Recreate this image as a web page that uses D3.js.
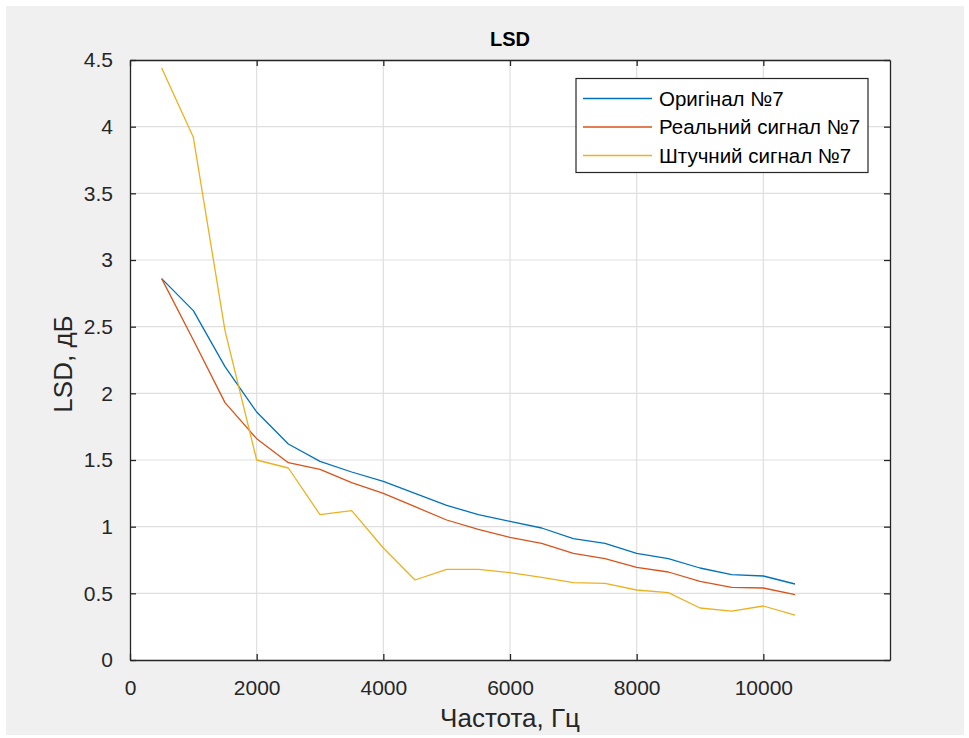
<!DOCTYPE html>
<html>
<head>
<meta charset="utf-8">
<script src="https://cdn.jsdelivr.net/npm/d3@7"></script>
<style>
  html, body { margin: 0; padding: 0; background: #ffffff; }
  svg { display: block; }
  text { font-family: "Liberation Sans", Arial, Helvetica, sans-serif; }
</style>
</head>
<body>
<svg id="chart" width="969" height="738"></svg>
<script>
// ---- data ----
const freqs = [500, 1000, 1500, 2000, 2500, 3000, 3500, 4000, 4500, 5000, 5500,
               6000, 6500, 7000, 7500, 8000, 8500, 9000, 9500, 10000, 10500];
const original = [2.86, 2.62, 2.20, 1.86, 1.62, 1.49, 1.41, 1.34, 1.25, 1.16, 1.09,
                  1.04, 0.99, 0.91, 0.875, 0.80, 0.76, 0.69, 0.64, 0.63, 0.57];
const realSig = [2.86, 2.40, 1.93, 1.66, 1.48, 1.43, 1.33, 1.25, 1.15, 1.05, 0.98,
                 0.92, 0.875, 0.80, 0.76, 0.695, 0.66, 0.59, 0.545, 0.54, 0.49];
const synthSig = [4.44, 3.92, 2.47, 1.50, 1.44, 1.09, 1.12, 0.84, 0.60, 0.68, 0.68,
                  0.655, 0.62, 0.58, 0.575, 0.525, 0.505, 0.39, 0.367, 0.405, 0.337];
const seriesNames = ["Оригінал №7", "Реальний сигнал №7", "Штучний сигнал №7"];
const xTicks = [0, 2000, 4000, 6000, 8000, 10000];
const yTicks = [0, 0.5, 1, 1.5, 2, 2.5, 3, 3.5, 4, 4.5];
const titleText = "LSD";
const xLabelText = "Частота, Гц";
const yLabelText = "LSD, дБ";

// ---- layout ----
const colors = ["#0072BD", "#D95319", "#EDB120"];
const plot = { left: 130, right: 890, top: 60, bottom: 660 };
const axisColor = "#262626";

const svg = d3.select("#chart");
svg.append("rect").attr("x", 6).attr("y", 6).attr("width", 958).attr("height", 729)
   .attr("fill", "#f0f0f0");

const x = d3.scaleLinear().domain([0, 12000]).range([plot.left, plot.right]);
const y = d3.scaleLinear().domain([0, 4.5]).range([plot.bottom, plot.top]);

// plot background
svg.append("rect").attr("x", plot.left).attr("y", plot.top)
   .attr("width", plot.right - plot.left).attr("height", plot.bottom - plot.top)
   .attr("fill", "#ffffff");

// grid
const grid = svg.append("g");
grid.selectAll("line.gx").data(xTicks.slice(1)).enter().append("line")
  .attr("x1", d => x(d)).attr("x2", d => x(d))
  .attr("y1", plot.top).attr("y2", plot.bottom)
  .attr("stroke", "#dfdfdf").attr("stroke-width", 1.2);
grid.selectAll("line.gy").data(yTicks.slice(1)).enter().append("line")
  .attr("x1", plot.left).attr("x2", plot.right)
  .attr("y1", d => y(d)).attr("y2", d => y(d))
  .attr("stroke", "#dfdfdf").attr("stroke-width", 1.2);

// lines
const line = d3.line().x(d => x(d[0])).y(d => y(d[1]));
[original, realSig, synthSig].forEach((vals, i) => {
  svg.append("path")
    .datum(freqs.map((f, j) => [f, vals[j]]))
    .attr("d", line)
    .attr("fill", "none")
    .attr("stroke", colors[i])
    .attr("stroke-width", 1.3)
    .attr("stroke-linejoin", "round");
});

// axes
const tickLen = 6;
const bottomAxis = d3.axisBottom(x).tickValues(xTicks).tickSizeInner(-tickLen).tickSizeOuter(0)
  .tickPadding(20).tickFormat(d3.format("d"));
const gx = svg.append("g").attr("transform", `translate(0,${plot.bottom})`).call(bottomAxis);
const topAxis = d3.axisTop(x).tickValues(xTicks).tickSizeInner(-tickLen).tickSizeOuter(0).tickFormat("");
const gxt = svg.append("g").attr("transform", `translate(0,${plot.top})`).call(topAxis);
const leftAxis = d3.axisLeft(y).tickValues(yTicks).tickSizeInner(-tickLen).tickSizeOuter(0)
  .tickPadding(17).tickFormat(d => d3.format("")(d));
const gy = svg.append("g").attr("transform", `translate(${plot.left},0)`).call(leftAxis);
const rightAxis = d3.axisRight(y).tickValues(yTicks).tickSizeInner(-tickLen).tickSizeOuter(0).tickFormat("");
const gyr = svg.append("g").attr("transform", `translate(${plot.right},0)`).call(rightAxis);

[gx, gxt, gy, gyr].forEach(g => {
  g.attr("font-size", 21).attr("font-family", '"Liberation Sans", Arial, sans-serif');
  g.select(".domain").attr("stroke", axisColor).attr("stroke-width", 1.3);
  g.selectAll(".tick line").attr("stroke", axisColor).attr("stroke-width", 1.3);
  g.selectAll(".tick text").attr("fill", axisColor).attr("font-size", 21).style("font-size", "21px");
});

// title & labels
svg.append("text").attr("x", (plot.left + plot.right) / 2).attr("y", 46)
  .attr("text-anchor", "middle").attr("font-weight", "bold").attr("font-size", 20)
  .attr("fill", "#000").text(titleText);
svg.append("text").attr("x", (plot.left + plot.right) / 2).attr("y", 727)
  .attr("text-anchor", "middle").attr("font-size", 26).attr("fill", axisColor).text(xLabelText);
svg.append("text").attr("transform", `translate(72,${(plot.top + plot.bottom) / 2 + 4}) rotate(-90)`)
  .attr("text-anchor", "middle").attr("font-size", 26).attr("fill", axisColor).text(yLabelText);

// legend
const lg = svg.append("g");
lg.append("rect").attr("x", 576).attr("y", 78.5).attr("width", 292).attr("height", 94)
  .attr("fill", "#ffffff").attr("stroke", axisColor).attr("stroke-width", 1.2);
seriesNames.forEach((name, i) => {
  const yy = 98.5 + i * 28.5;
  lg.append("line").attr("x1", 583).attr("x2", 652).attr("y1", yy).attr("y2", yy)
    .attr("stroke", colors[i]).attr("stroke-width", 1.3);
  lg.append("text").attr("x", 659).attr("y", yy + 7).attr("font-size", 20.5)
    .attr("fill", "#000").text(name);
});
</script>
</body>
</html>
